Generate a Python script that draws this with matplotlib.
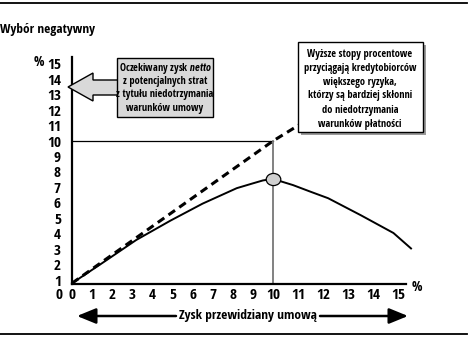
import numpy as np
import matplotlib
matplotlib.use("Agg")
import matplotlib.pyplot as plt
from matplotlib.patches import Polygon, Rectangle, FancyArrowPatch
from matplotlib.markers import MarkerStyle
from matplotlib.path import Path
from matplotlib.transforms import Affine2D

plt.rcParams['font.family'] = ['Open Sans Condensed', 'DejaVu Sans']
plt.rcParams['font.weight'] = 'bold'
plt.rcParams['mathtext.fontset'] = 'custom'
plt.rcParams['mathtext.it'] = 'Roboto Condensed:italic:bold'

# tick values
x_ticks = list(range(0, 16))
y_ticks = list(range(1, 16))

# expected return on the contract (solid curve)
x_curve = [0, 1.5, 3.2, 4.9, 6.5, 8.2, 9.0, 9.5, 10, 10.8, 11.5, 12.2, 13.5, 14.8, 15.5]
y_curve = [0.8, 2.1, 3.6, 4.85, 5.95, 6.95, 7.26, 7.45, 7.55, 7.15, 6.72, 6.3, 5.2, 4.05, 3.05]

# contractual rate (dashed line)
x_dash = [0, 10, 11.5]
y_dash = [0.8, 10, 11.5]

# optimum point
x_opt = 10
y_opt = 7.55
ref_level = 10

W, H = 469, 345
fig = plt.figure(figsize=(W / 100, H / 100), dpi=100)


def fx(x):
    return x / W


def fy(y):
    return 1 - y / H


# x axis stretched above 10 %
def fwd(x):
    x = np.asarray(x, dtype=float)
    return np.where(x <= 10, x, 10 + (x - 10) * 1.25)


def inv(x):
    x = np.asarray(x, dtype=float)
    return np.where(x <= 10, x, 10 + (x - 10) / 1.25)


ax = fig.add_axes([fx(72), fy(284), fx(406) - fx(72), fy(56.8) - fy(284)])
ax.set_xscale('function', functions=(fwd, inv))
ax.set_xlim(0, 15.3)
ax.set_ylim(0.75, 15.45)

for s in ['top', 'right']:
    ax.spines[s].set_visible(False)
for s in ['left', 'bottom']:
    ax.spines[s].set_linewidth(1.6)

ax.set_xticks(x_ticks)
ax.set_yticks(y_ticks)
ax.minorticks_off()
ax.tick_params(length=0, labelsize=11)
ax.tick_params(axis='y', pad=8)
ax.tick_params(axis='x', pad=3)
ax.set_xticklabels([str(v) for v in x_ticks], fontweight='bold')
ax.set_yticklabels([str(v) for v in y_ticks], fontweight='bold')

# "0" on the y scale sits level with the x labels
fig.text(fx(62), fy(295), '0', ha='right', va='center', fontsize=11, fontweight='bold')
fig.text(fx(44), fy(62), '%', ha='right', va='center', fontsize=10, fontweight='bold')
fig.text(fx(412), fy(287), '%', ha='left', va='center', fontsize=10, fontweight='bold')

# reference lines at 10 %
ax.plot([0, x_opt], [ref_level, ref_level], color='black', lw=0.9)
ax.plot([x_opt, x_opt], [0.75, ref_level], color='#777777', lw=1.3)

ax.plot(x_dash, y_dash, color='black', lw=2.2, dashes=(2.6, 1.7), zorder=2)
ax.plot(x_curve, y_curve, color='black', lw=1.4, clip_on=False, zorder=3)

ell = Path.unit_circle().transformed(Affine2D().scale(1.2, 1.0))
ax.plot([x_opt], [y_opt], marker=MarkerStyle(ell), ms=10.5, mfc='#d0d0d0',
        mec='black', mew=0.9, zorder=4, ls='none')

# title and frame rules
fig.text(fx(0), fy(30), 'Wybór negatywny', ha='left', va='center', fontsize=9.5,
         fontweight='bold')
fig.add_artist(plt.Line2D([fx(0), fx(467)], [fy(3), fy(3)], color='black', lw=1.3))
fig.add_artist(plt.Line2D([fx(0), fx(467)], [fy(334), fy(334)], color='black', lw=1.3))

# left note with block arrow
arrow_pts = [(68, 87), (93, 73), (93, 80), (118, 80), (118, 95), (93, 95), (93, 101)]
fig.add_artist(Polygon([(fx(a), fy(b)) for a, b in arrow_pts], closed=True,
                       facecolor='#d9d9d9', edgecolor='black', lw=1.0,
                       transform=fig.transFigure, zorder=5))
fig.add_artist(Rectangle((fx(117), fy(117)), fx(213) - fx(117), fy(58) - fy(117),
                         facecolor='#d9d9d9', edgecolor='black', lw=1.0,
                         transform=fig.transFigure, zorder=6))
left_lines = [r'Oczekiwany zysk $\mathit{netto}$', 'z potencjalnych strat',
              'z tytułu niedotrzymania', 'warunków umowy']
for i, t in enumerate(left_lines):
    fig.text(fx(165), fy(68 + i * 13.4), t, ha='center', va='center', fontsize=7.5,
             fontweight='bold', zorder=7)

# right note with shadow
fig.add_artist(Rectangle((fx(301), fy(135)), fx(423) - fx(298), fy(42) - fy(132),
                         facecolor='#9a9a9a', edgecolor='none',
                         transform=fig.transFigure, zorder=5))
fig.add_artist(Rectangle((fx(298), fy(132)), fx(423) - fx(298), fy(42) - fy(132),
                         facecolor='white', edgecolor='black', lw=1.0,
                         transform=fig.transFigure, zorder=6))
right_lines = ['Wyższe stopy procentowe', 'przyciągają kredytobiorców',
               'większego ryzyka,', 'którzy są bardziej skłonni',
               'do niedotrzymania', 'warunków płatności']
for i, t in enumerate(right_lines):
    fig.text(fx(360), fy(54 + i * 14), t, ha='center', va='center', fontsize=7.5,
             fontweight='bold', zorder=7)

# axis caption with arrows both ways
fig.text(fx(247.5), fy(316), 'Zysk przewidziany umową', ha='center', va='center',
         fontsize=9.6, fontweight='bold')
ap = dict(arrowstyle='-|>,head_length=1.15,head_width=0.47', mutation_scale=10,
          color='black', lw=1.8, shrinkA=0, shrinkB=0, transform=fig.transFigure)
fig.add_artist(FancyArrowPatch((fx(176), fy(316)), (fx(77), fy(316)), **ap))
fig.add_artist(FancyArrowPatch((fx(320), fy(316)), (fx(408), fy(316)), **ap))

fig.savefig('out.png', dpi=100)
